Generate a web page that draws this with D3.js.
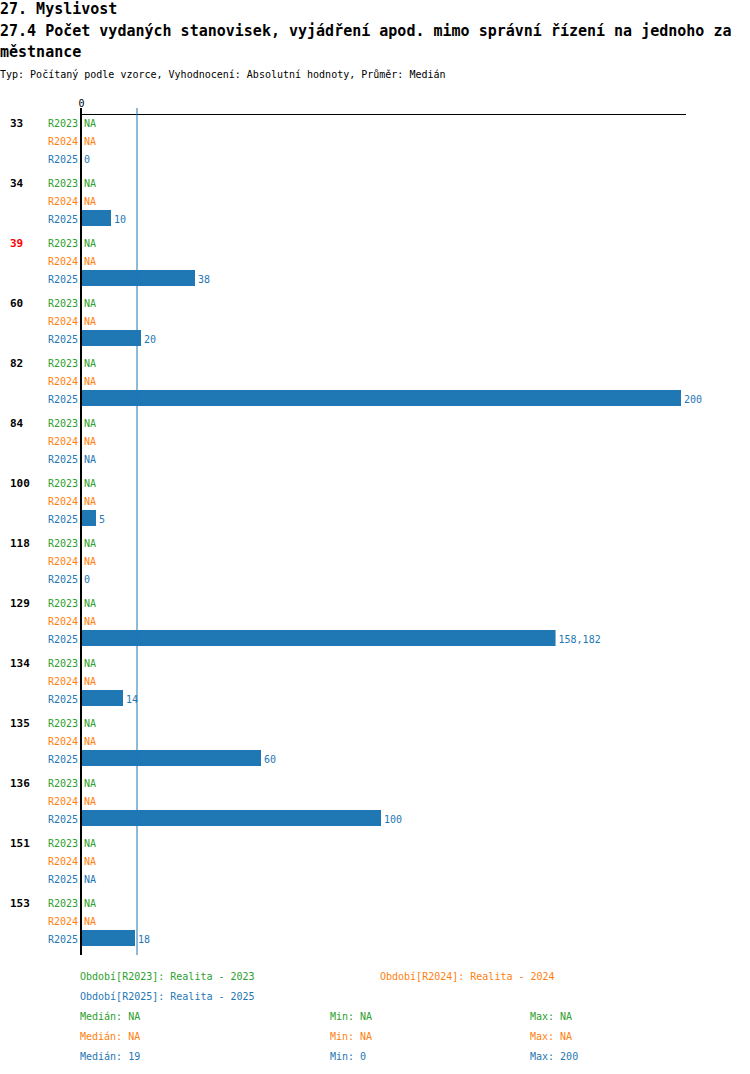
<!DOCTYPE html>
<html><head><meta charset="utf-8">
<script src="https://cdn.jsdelivr.net/npm/d3@7/dist/d3.min.js"></script>
<style>body{margin:0;background:#fff}svg{display:block}text{font-family:"DejaVu Sans Mono",monospace}</style>
</head><body><svg id="c" width="750" height="1074"></svg>
<script>
const groups = ["33","34","39","60","82","84","100","118","129","134","135","136","151","153"];
const periods = ["R2023","R2024","R2025"];
const r2023 = [null,null,null,null,null,null,null,null,null,null,null,null,null,null];
const r2024 = [null,null,null,null,null,null,null,null,null,null,null,null,null,null];
const r2025 = [0,10,38,20,200,null,5,0,158.182,14,60,100,null,18];
const highlighted = ["39"];
const colors = {R2023:"#2ca02c", R2024:"#ff7f0e", R2025:"#1f77b4"};
const legendLabels = ["Období[R2023]: Realita - 2023","Období[R2024]: Realita - 2024","Období[R2025]: Realita - 2025"];
const medians = [null,null,19];
const mins = [null,null,0];
const maxs = [null,null,200];
const xTicks = [0];
const titleLines = ["27. Myslivost","27.4 Počet vydaných stanovisek, vyjádření apod. mimo správní řízení na jednoho za","městnance"];
const subtitle = "Typ: Počítaný podle vzorce, Vyhodnocení: Absolutní hodnoty, Průměr: Medián";

const series = [r2023, r2024, r2025];
const svg = d3.select("#c");
const fmt = v => v == null ? "NA" : String(+v.toFixed(3)).replace(".", ",");
const dy = 1;

const x = d3.scaleLinear().domain([0,200]).range([81,681]);
const y0 = d3.scaleBand().domain(groups).range([113,953]);
const y1 = d3.scaleBand().domain(periods).range([0,54]).paddingInner(0.11).paddingOuter(0.055);

// titles
svg.selectAll("text.title").data(titleLines).join("text")
  .attr("x",0).attr("y",(d,i)=>[9,31,52][i]).attr("dominant-baseline","central")
  .attr("font-size",15).attr("font-weight","bold").attr("fill","#000").text(d=>d);
svg.append("text").attr("x",0).attr("y",74).attr("dominant-baseline","central")
  .attr("font-size",10).attr("fill","#000").text(subtitle);

// top axis
const ax = svg.append("g").attr("transform","translate(0,114)")
  .call(d3.axisTop(x).tickValues(xTicks).tickSize(0).tickPadding(7).tickFormat(d3.format("d")));
ax.select(".domain").remove();
ax.selectAll("text").attr("font-size",10).attr("font-family","DejaVu Sans Mono").attr("fill","#000");
svg.append("line").attr("x1",x(0)).attr("x2",686).attr("y1",114.5).attr("y2",114.5).attr("stroke","#000").attr("stroke-width",1);

// groups
const g = svg.selectAll("g.grp").data(groups).join("g").attr("class","grp")
  .attr("transform",d=>`translate(0,${y0(d)})`);
g.append("text").attr("x",10).attr("y",y1("R2023")+y1.bandwidth()/2+dy).attr("dominant-baseline","central")
  .attr("font-size",11).attr("font-weight","bold")
  .attr("fill",d=>highlighted.includes(d)?"#ff0000":"#000").text(d=>d);

groups.forEach((gr,gi)=>{
  const gg = g.filter(d=>d===gr);
  periods.forEach((p,pi)=>{
    const v = series[pi][gi];
    const cy = y1(p)+y1.bandwidth()/2+dy;
    gg.append("text").attr("x",78).attr("y",cy).attr("text-anchor","end").attr("dominant-baseline","central")
      .attr("font-size",10).attr("fill",colors[p]).text(p);
    if (v != null && v > 0) {
      gg.append("rect").attr("x",x(0)+1).attr("y",y1(p)).attr("width",x(v)-x(0)-1).attr("height",y1.bandwidth())
        .attr("fill",colors[p]);
    }
    gg.append("text").attr("x",(v==null||v===0)?84:x(v)+3).attr("y",cy).attr("dominant-baseline","central")
      .attr("font-size",10).attr("fill",colors[p]).text(fmt(v));
  });
});

// median line
svg.append("line").attr("x1",x(medians[2])-1).attr("x2",x(medians[2])-1).attr("y1",108).attr("y2",955)
  .attr("stroke",colors.R2025).attr("stroke-width",1);
// zero axis
svg.append("line").attr("x1",x(0)).attr("x2",x(0)).attr("y1",108).attr("y2",955)
  .attr("stroke","#000").attr("stroke-width",2);

// legend
const legPos = [[80,976],[380,976],[80,996]];
legendLabels.forEach((t,i)=>{
  svg.append("text").attr("x",legPos[i][0]).attr("y",legPos[i][1]).attr("dominant-baseline","central")
    .attr("font-size",10).attr("fill",colors[periods[i]]).text(t);
});
periods.forEach((p,i)=>{
  const yy = 1016 + i*20;
  const vals = [["Medián: ",medians[i],80],["Min: ",mins[i],330],["Max: ",maxs[i],530]];
  vals.forEach(([lab,v,xx])=>{
    svg.append("text").attr("x",xx).attr("y",yy).attr("dominant-baseline","central")
      .attr("font-size",10).attr("fill",colors[p]).text(lab+fmt(v));
  });
});
</script></body></html>
